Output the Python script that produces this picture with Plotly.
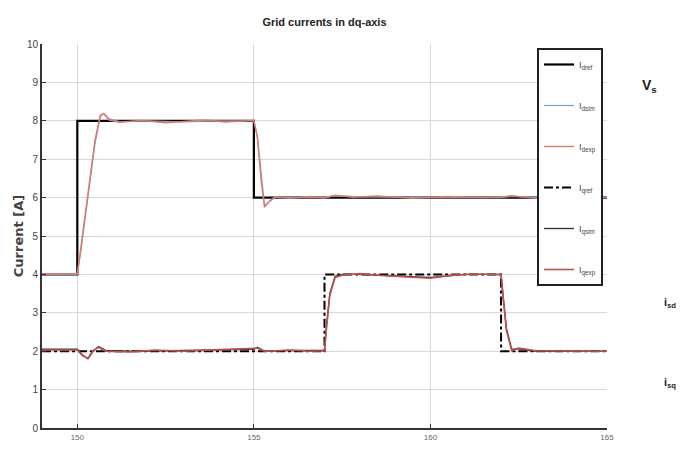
import plotly.graph_objects as go

# ---- data ----
t_dref = [149, 150, 150, 155, 155, 165]
i_dref = [4, 4, 8, 8, 6, 6]

t_dsim = [149, 150.0, 150.1, 150.3, 150.5, 150.65, 150.75, 150.9, 151.2, 152, 153, 154, 155.0,
          155.1, 155.2, 155.3, 155.45, 155.6, 156, 157, 157.3, 158, 160, 162, 162.3, 163, 165]
i_dsim = [4, 4, 4.6, 6.0, 7.4, 8.1, 8.2, 8.05, 7.98, 8.0, 7.97, 8.0, 8.0,
          7.6, 6.6, 5.8, 5.9, 6.0, 6.0, 6.0, 6.05, 6.02, 6.0, 6.0, 6.03, 6.0, 6.0]

t_dexp = [149, 150.0, 150.1, 150.3, 150.5, 150.65, 150.75, 150.9, 151.2, 151.8, 152.5, 153, 153.6, 154.2, 155.0,
          155.1, 155.2, 155.3, 155.45, 155.6, 156, 156.6, 157, 157.3, 157.8, 158.5, 159.5, 160.5, 161.5, 162, 162.3, 163, 164, 165]
i_dexp = [4.02, 4.02, 4.7, 6.1, 7.5, 8.15, 8.18, 8.02, 7.96, 8.01, 7.95, 7.98, 8.02, 7.97, 8.01,
          7.55, 6.5, 5.75, 5.92, 6.02, 5.98, 6.03, 5.99, 6.06, 6.01, 6.04, 5.98, 6.03, 6.0, 6.02, 6.05, 5.98, 6.02, 6.0]

t_qref = [149, 157, 157, 162, 162, 165]
i_qref = [2, 2, 4, 4, 2, 2]

t_qsim = [149, 150, 150.15, 150.3, 150.45, 150.6, 150.8, 151.5, 153, 155, 155.1, 155.3, 156, 157,
          157.05, 157.15, 157.3, 157.5, 158, 159, 160, 161, 162, 162.05, 162.15, 162.3, 162.5, 163, 165]
i_qsim = [2.05, 2.05, 1.9, 1.8, 2.0, 2.12, 2.02, 2.0, 2.02, 2.05, 2.1, 2.0, 2.02, 2.02,
          2.6, 3.5, 3.95, 4.0, 4.0, 3.96, 3.92, 4.0, 4.0, 3.5, 2.6, 2.05, 2.06, 2.0, 2.0]

t_qexp = [149, 150, 150.15, 150.3, 150.45, 150.6, 150.8, 151.5, 152.2, 153, 154, 155, 155.1, 155.3, 156, 156.6, 157,
          157.05, 157.15, 157.3, 157.5, 158, 158.6, 159.2, 160, 160.6, 161.3, 162, 162.05, 162.15, 162.3, 162.5, 163, 164, 165]
i_qexp = [2.03, 2.03, 1.88, 1.82, 2.02, 2.1, 2.0, 1.98, 2.03, 2.0, 2.04, 2.06, 2.08, 2.0, 2.03, 2.0, 2.01,
          2.55, 3.45, 3.92, 3.98, 4.02, 3.97, 3.94, 3.9, 3.98, 4.01, 3.99, 3.45, 2.55, 2.02, 2.08, 2.01, 2.0, 2.0]

x_ticks = [150, 155, 160, 165]
x_tick_labels = ["150", "155", "160", "165"]
y_ticks = list(range(0, 11))

# geometry (the page body adds an 8px offset)
OFF = 8
FW, FH = 686, 445
L, R, T, B = 34, 87, 36, 25
W = FW - L - R
H = FH - T - B


def px(xp):
    return (xp - OFF - L) / W


def py(yp):
    return (OFF + FH - B - yp) / H


fig = go.Figure()
series = [
    (t_dref, i_dref, "I<sub>dref</sub>", dict(color="black", width=2.2)),
    (t_dsim, i_dsim, "I<sub>dsim</sub>", dict(color="#7d9fc0", width=1.2)),
    (t_dexp, i_dexp, "I<sub>dexp</sub>", dict(color="#e0796a", width=1.4)),
    (t_qref, i_qref, "I<sub>qref</sub>", dict(color="black", width=2, dash="dashdot")),
    (t_qsim, i_qsim, "I<sub>qsim</sub>", dict(color="#2f3f3f", width=1.4)),
    (t_qexp, i_qexp, "I<sub>qexp</sub>", dict(color="#c0504d", width=1.6)),
]
for i, (x, y, name, line) in enumerate(series):
    fig.add_trace(go.Scatter(x=x, y=y, mode="lines", name=name, line=line,
                             legendgroup=str(i)))

fig.update_layout(
    width=FW, height=FH,
    margin=dict(l=L, r=R, t=T, b=B, autoexpand=False),
    paper_bgcolor="white", plot_bgcolor="white",
    title=dict(text="<b>Grid currents in dq-axis</b>", x=(L + W / 2) / FW, xanchor="center",
               y=1 - (22 - OFF) / FH, yanchor="middle", automargin=False,
               font=dict(family="Liberation Sans Narrow, Liberation Sans, Arial", size=11, color="#222")),
    font=dict(family="Liberation Sans Narrow, Liberation Sans, Arial", size=10, color="#333"),
    showlegend=True,
    legend=dict(x=px(537), y=py(48), xanchor="left", yanchor="top",
                bgcolor="white", bordercolor="#222", borderwidth=2,
                tracegroupgap=22, font=dict(size=9, color="#444"),
                itemwidth=30),
    xaxis=dict(range=[149, 165], tickvals=x_ticks, ticktext=x_tick_labels,
               showgrid=True, gridcolor="#d8d8d8", gridwidth=1, automargin=False,
               showline=True, linecolor="#333", linewidth=2,
               ticks="inside", ticklen=4, tickcolor="#333", zeroline=False,
               tickfont=dict(size=8, color="#666")),
    yaxis=dict(range=[0, 10], tickvals=y_ticks, automargin=False,
               showgrid=True, gridcolor="#d8d8d8", gridwidth=1,
               showline=True, linecolor="#333", linewidth=2,
               ticks="inside", ticklen=4, tickcolor="#333", zeroline=False,
               title=dict(text="<b>Current [A]</b>", standoff=0,
                          font=dict(family="DejaVu Sans", size=13, color="#444")),
               tickfont=dict(size=10, color="#444")),
)

# fragments of neighbouring figure at the right edge
fig.add_annotation(x=px(640), y=py(75), xref="paper", yref="paper",
                   text="<b>V<sub>s</sub></b>", showarrow=False, xanchor="left",
                   font=dict(size=14, color="#222"))
fig.add_annotation(x=px(662), y=py(312), xref="paper", yref="paper",
                   text="<b>i<sub>sd</sub></b>", showarrow=False, xanchor="left",
                   font=dict(size=11, color="#222"))
fig.add_annotation(x=px(662), y=py(392), xref="paper", yref="paper",
                   text="<b>i<sub>sq</sub></b>", showarrow=False, xanchor="left",
                   font=dict(size=11, color="#222"))

fig.write_html("out.html")
